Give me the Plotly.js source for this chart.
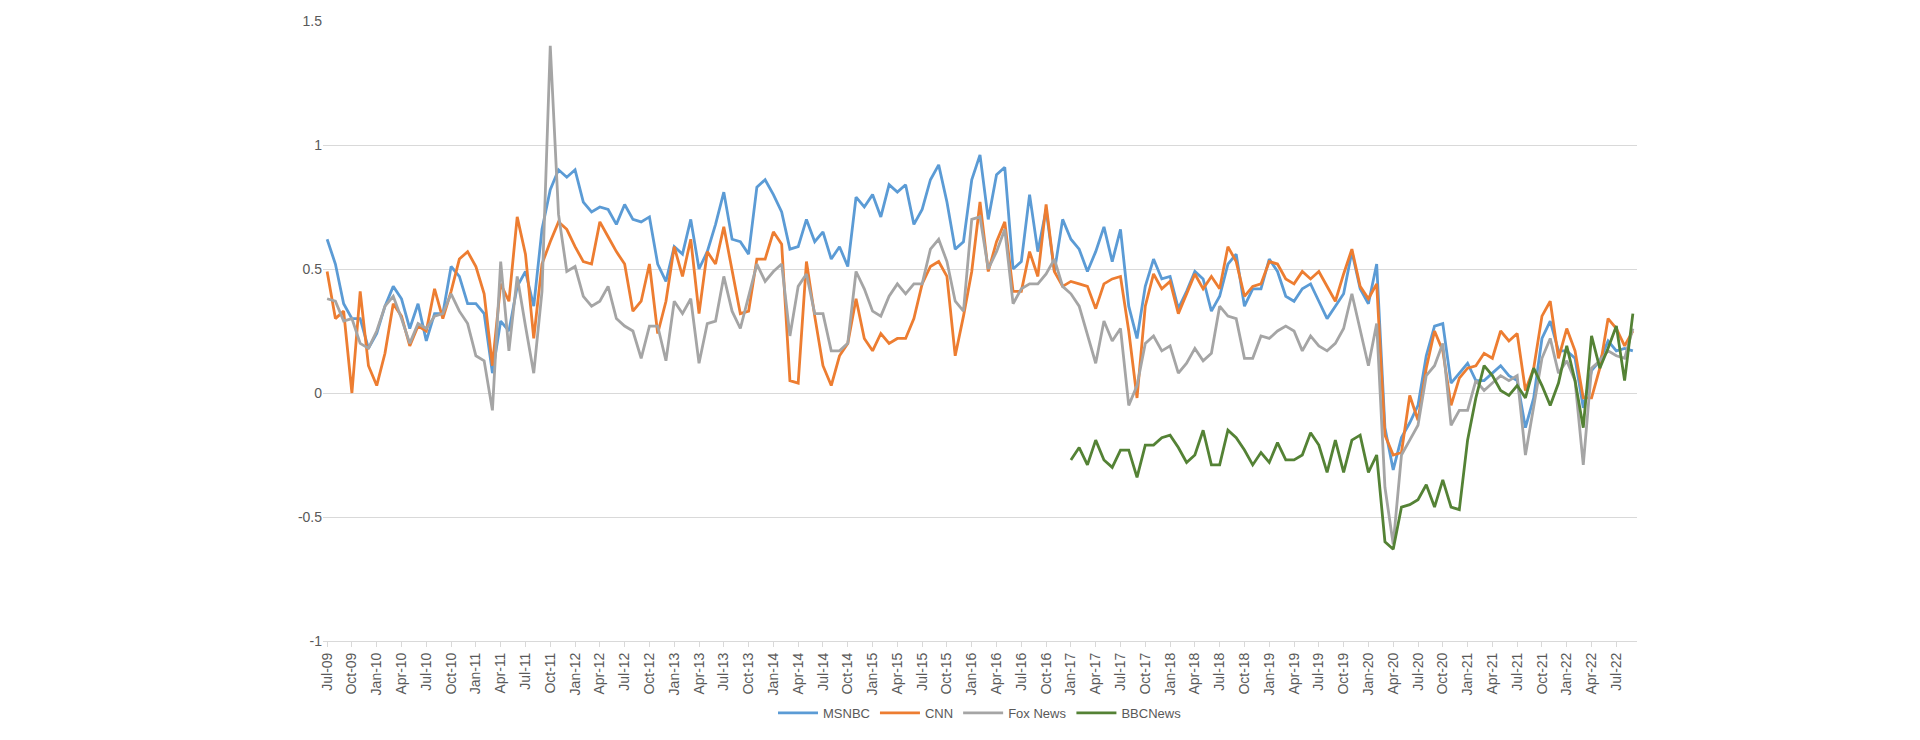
<!DOCTYPE html>
<html><head><meta charset="utf-8">
<script src="https://cdn.plot.ly/plotly-3.0.1.min.js"></script>
<style>html,body{margin:0;padding:0;background:#fff}#c{width:1920px;height:740px}</style>
</head><body><div id="c"></div>
<script>
const monthNames = ["Jan","Feb","Mar","Apr","May","Jun","Jul","Aug","Sep","Oct","Nov","Dec"];
const startYear = 2009, startMonth = 6, nMonths = 159;
const months = [];
for (let i = 0; i < nMonths; i++) {
  const m = (startMonth + i) % 12, y = startYear + Math.floor((startMonth + i) / 12);
  months.push(monthNames[m] + "-" + String(y % 100).padStart(2, "0"));
}
const msnbc = [0.62,0.52,0.36,0.30,0.30,0.18,0.24,0.35,0.43,0.38,0.26,0.36,0.21,0.32,0.32,0.51,
0.47,0.36,0.36,0.32,0.08,0.29,0.25,0.43,0.49,0.35,0.66,0.82,0.90,0.87,0.90,0.77,0.73,0.75,0.74,0.68,0.76,0.70,0.69,
0.71,0.52,0.45,0.59,0.56,0.70,0.50,0.57,0.68,0.81,0.62,0.61,0.56,0.83,0.86,0.80,0.73,0.58,0.59,0.70,0.61,0.65,0.54,
0.59,0.51,0.79,0.75,0.80,0.71,0.84,0.81,0.84,0.68,0.74,0.86,0.92,0.77,0.58,0.61,0.86,0.96,0.70,0.88,0.91,0.50,0.53,
0.80,0.57,0.74,0.49,0.70,0.62,0.58,0.49,0.57,0.67,0.53,0.66,0.35,0.22,0.43,0.54,0.46,0.47,0.34,0.41,0.49,0.46,0.33,
0.39,0.52,0.56,0.35,0.42,0.42,0.54,0.49,0.39,0.37,0.42,0.44,0.37,0.30,0.35,0.40,0.57,
0.42,0.36,0.52,-0.14,-0.31,-0.18,-0.12,-0.05,0.15,0.27,0.28,0.04,0.08,0.12,0.05,0.05,0.08,0.11,0.07,0.05,
-0.14,-0.02,0.22,0.29,0.17,0.17,0.14,-0.06,0.09,0.13,0.21,0.17,0.18,0.17];
const cnn = [0.49,0.30,0.33,0.00,0.41,0.11,0.03,0.16,0.36,0.31,0.19,0.27,0.25,0.42,0.30,0.41,
0.54,0.57,0.51,0.40,0.11,0.44,0.37,0.71,0.56,0.22,0.52,0.61,0.69,0.66,0.59,0.53,0.52,0.69,0.63,0.57,0.52,0.33,
0.37,0.52,0.24,0.37,0.59,0.47,0.62,0.32,0.57,0.52,0.67,0.49,0.32,0.33,0.54,0.54,0.65,0.60,0.05,0.04,0.53,0.31,0.11,0.03,
0.15,0.20,0.38,0.22,0.17,0.24,0.20,0.22,0.22,0.30,0.44,0.51,0.53,0.47,0.15,0.31,0.49,0.77,0.49,0.61,0.69,0.41,0.41,
0.57,0.47,0.76,0.49,0.43,0.45,0.44,0.43,0.34,0.44,0.46,0.47,0.25,-0.02,0.35,0.48,0.42,0.45,0.32,0.40,0.48,0.42,0.47,
0.42,0.59,0.53,0.39,0.43,0.44,0.53,0.52,0.46,0.44,0.49,0.46,0.49,0.43,0.37,0.48,0.58,
0.43,0.38,0.44,-0.17,-0.25,-0.24,-0.01,-0.11,0.10,0.25,0.17,-0.05,0.06,0.10,0.11,0.16,0.14,0.25,0.21,0.24,
0.01,0.10,0.31,0.37,0.14,0.26,0.17,-0.02,-0.02,0.10,0.30,0.26,0.19,0.25];
const fox = [0.38,0.37,0.29,0.30,0.20,0.18,0.25,0.35,0.39,0.30,0.20,0.28,0.26,0.31,0.32,0.40,
0.33,0.28,0.15,0.13,-0.07,0.53,0.17,0.47,0.27,0.08,0.41,1.40,0.72,0.49,0.51,0.39,0.35,0.37,0.43,0.30,0.27,0.25,
0.14,0.27,0.27,0.13,0.37,0.32,0.38,0.12,0.28,0.29,0.47,0.33,0.26,0.39,0.52,0.45,0.49,0.52,0.23,0.43,0.48,0.32,0.32,0.17,
0.17,0.20,0.49,0.42,0.33,0.31,0.39,0.44,0.40,0.44,0.44,0.58,0.62,0.53,0.37,0.33,0.70,0.71,0.50,0.57,0.66,0.36,0.42,
0.44,0.44,0.48,0.54,0.43,0.40,0.35,0.23,0.12,0.29,0.21,0.26,-0.05,0.03,0.20,0.23,0.17,0.19,0.08,0.12,0.18,0.13,0.16,
0.35,0.31,0.30,0.14,0.14,0.23,0.22,0.25,0.27,0.25,0.17,0.23,0.19,0.17,0.20,0.26,0.40,
0.25,0.11,0.28,-0.38,-0.61,-0.25,-0.19,-0.13,0.07,0.11,0.20,-0.13,-0.07,-0.07,0.05,0.01,0.04,0.07,0.05,0.07,
-0.25,-0.06,0.14,0.22,0.08,0.13,0.05,-0.29,0.10,0.13,0.17,0.15,0.14,0.26];
const bbcStart = 90;
const bbcValues = [-0.27,-0.22,-0.29,-0.19,-0.27,-0.30,-0.23,-0.23,-0.34,-0.21,-0.21,-0.18,-0.17,-0.22,-0.28,-0.25,-0.15,-0.29,
-0.29,-0.15,-0.18,-0.23,-0.29,-0.24,-0.28,-0.20,-0.27,-0.27,-0.25,-0.16,-0.21,-0.32,-0.19,-0.32,-0.19,
-0.17,-0.32,-0.25,-0.60,-0.63,-0.46,-0.45,-0.43,-0.37,-0.46,-0.35,-0.46,-0.47,-0.19,-0.02,0.11,0.07,0.01,-0.01,0.03,
-0.02,0.10,0.03,-0.05,0.04,0.19,0.05,-0.14,0.23,0.10,0.18,0.27,0.05,0.32];
const idx = months.map((_, i) => i);
const bbcX = bbcValues.map((_, i) => bbcStart + i);
const tickIdx = idx.filter(i => i % 3 === 0);
const tickText = tickIdx.map(i => months[i]);
const lw = 2.8;
const traces = [
 {x: idx, y: msnbc, name: "MSNBC", line: {color: "#5B9BD5", width: lw}},
 {x: idx, y: cnn, name: "CNN", line: {color: "#ED7D31", width: lw}},
 {x: idx, y: fox, name: "Fox News", line: {color: "#A5A5A5", width: lw}},
 {x: bbcX, y: bbcValues, name: "BBCNews", line: {color: "#548235", width: lw}}
].map(t => Object.assign({type: "scatter", mode: "lines", hoverinfo: "skip"}, t));
const layout = {
  width: 1920, height: 740,
  margin: {l: 323, r: 283, t: 21, b: 88},
  paper_bgcolor: "#fff", plot_bgcolor: "#fff",
  font: {family: "Liberation Sans, Arial, sans-serif", size: 13, color: "#595959"},
  showlegend: true,
  legend: {orientation: "h", x: 0.5, xanchor: "center", y: -0.116, yanchor: "middle",
    font: {size: 13, color: "#595959"}, itemwidth: 40, traceorder: "normal"},
  xaxis: {range: [-0.5, nMonths - 0.5], tickmode: "array", tickvals: tickIdx, ticktext: tickText,
    tickangle: -90, showgrid: false, zeroline: false, showline: true, linecolor: "#d9d9d9",
    ticks: "outside", ticklen: 5, tickcolor: "#d9d9d9", tickfont: {size: 14, color: "#595959"}},
  yaxis: {range: [-1, 1.5], tickvals: [-1, -0.5, 0, 0.5, 1, 1.5], ticktext: ["-1","-0.5","0","0.5","1","1.5"],
    showgrid: true, gridcolor: "#d9d9d9", zeroline: false, showline: false, ticks: "",
    tickfont: {size: 14, color: "#595959"}}
};
Plotly.newPlot("c", traces, layout, {displayModeBar: false, staticPlot: true});
</script></body></html>
